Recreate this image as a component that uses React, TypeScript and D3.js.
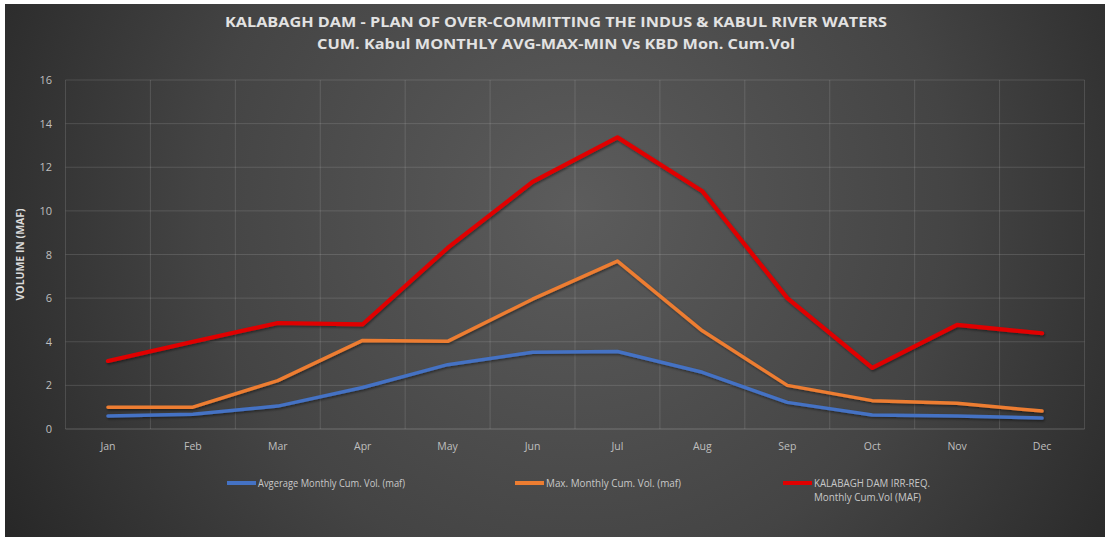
import React from "react";
import * as d3 from "d3";

const months = ["Jan","Feb","Mar","Apr","May","Jun","Jul","Aug","Sep","Oct","Nov","Dec"];
const avgVol = [0.6,0.68,1.05,1.9,2.95,3.52,3.55,2.6,1.22,0.64,0.6,0.5];
const maxVol = [1.0,1.0,2.22,4.06,4.02,5.95,7.7,4.5,2.0,1.3,1.18,0.82];
const kbdVol = [3.12,4.0,4.86,4.8,8.3,11.33,13.37,10.9,6.0,2.8,4.77,4.39];
const yTicks = [0,2,4,6,8,10,12,14,16];
const titleLines = [
  "KALABAGH DAM - PLAN OF OVER-COMMITTING THE INDUS & KABUL RIVER WATERS",
  "CUM. Kabul MONTHLY AVG-MAX-MIN Vs KBD Mon. Cum.Vol",
];
const seriesNames = [
  ["Avgerage Monthly Cum. Vol. (maf)"],
  ["Max. Monthly Cum. Vol. (maf)"],
  ["KALABAGH DAM IRR-REQ.", "Monthly Cum.Vol (MAF)"],
];

const W = 1105, H = 537;
const plot = { left: 65.5, right: 1084.5, top: 80, bottom: 429 };

export default function App() {
  const x = d3.scaleBand<string>().domain(months).range([plot.left, plot.right]);
  const y = d3.scaleLinear().domain([0, 16]).range([plot.bottom, plot.top]);
  const cx = (m: string) => (x(m) as number) + x.bandwidth() / 2;
  const line = d3.line<number>().x((_, i) => cx(months[i])).y((v) => y(v));

  const series = [
    { data: avgVol, color: "#4472c4", width: 3.5, lx: 227, tl: [147] },
    { data: maxVol, color: "#ed7d31", width: 3.5, lx: 515, tl: [135] },
    { data: kbdVol, color: "#e00000", width: 4.2, lx: 783, tl: [116, 107] },
  ];
  const font = "'Open Sans', 'DejaVu Sans', sans-serif";

  return (
    <svg width={W} height={H} style={{ position: "absolute", left: 0, top: 0, display: "block" }} fontFamily={font}>
      <defs>
        <radialGradient id="bg" cx="0.52" cy="0.38" r="0.62" gradientTransform="translate(0.52,0.38) scale(1,2.05) translate(-0.52,-0.38)">
          <stop offset="0" stopColor="#5c5c5c" />
          <stop offset="0.55" stopColor="#444444" />
          <stop offset="1" stopColor="#252525" />
        </radialGradient>
        <filter id="sh" x="-5%" y="-20%" width="110%" height="140%">
          <feDropShadow dx="1" dy="1.5" stdDeviation="1.2" floodColor="#000" floodOpacity="0.45" />
        </filter>
      </defs>
      <rect x={0} y={0} width={W} height={H} fill="#ffffff" />
      <rect x={5} y={4} width={W - 5} height={H - 4} fill="url(#bg)" />

      {/* title */}
      {titleLines.map((t, i) => (
        <text key={i} x={556} y={27 + i * 22} textAnchor="middle" fill="#e2e2e2" fontSize={13.5} fontWeight={700}
          textLength={i === 0 ? 662 : 478} lengthAdjust="spacingAndGlyphs">{t}</text>
      ))}

      {/* gridlines */}
      {yTicks.map((t) => (
        <line key={"h" + t} x1={plot.left} x2={plot.right} y1={y(t)} y2={y(t)}
          stroke={t === 0 ? "rgba(255,255,255,0.22)" : "rgba(255,255,255,0.13)"} strokeWidth={1} />
      ))}
      {months.map((m) => (
        <line key={"v" + m} x1={x(m) as number} x2={x(m) as number} y1={plot.top} y2={plot.bottom}
          stroke="rgba(255,255,255,0.13)" strokeWidth={1} />
      ))}
      <line x1={plot.right} x2={plot.right} y1={plot.top} y2={plot.bottom} stroke="rgba(255,255,255,0.13)" />

      {/* y tick labels */}
      {yTicks.map((t) => (
        <text key={"yt" + t} x={52} y={y(t) + 4} textAnchor="end" fill="#bfbfbf" fontSize={11}>{t}</text>
      ))}
      {/* x tick labels */}
      {months.map((m) => (
        <text key={"xt" + m} x={cx(m)} y={450} textAnchor="middle" fill="#bfbfbf" fontSize={10.5}>{m}</text>
      ))}

      {/* y axis title */}
      <text transform={`translate(24,${(plot.top + plot.bottom) / 2}) rotate(-90)`} textAnchor="middle" fill="#d9d9d9"
        fontSize={10} fontWeight={700} textLength={92} lengthAdjust="spacingAndGlyphs">VOLUME IN (MAF)</text>

      {/* series lines */}
      {series.map((s, i) => (
        <path key={"s" + i} d={line(s.data) || ""} fill="none" stroke={s.color} strokeWidth={s.width}
          strokeLinejoin="round" strokeLinecap="round" filter="url(#sh)" />
      ))}

      {/* legend */}
      {series.map((s, i) => (
        <g key={"lg" + i}>
          <line x1={s.lx} x2={s.lx + 29} y1={483} y2={483} stroke={s.color} strokeWidth={4} />
          {seriesNames[i].map((t, j) => (
            <text key={j} x={s.lx + 31} y={487 + j * 14} fill="#c8c8c8" fontSize={10}
              textLength={s.tl[j]} lengthAdjust="spacingAndGlyphs">{t}</text>
          ))}
        </g>
      ))}
    </svg>
  );
}
